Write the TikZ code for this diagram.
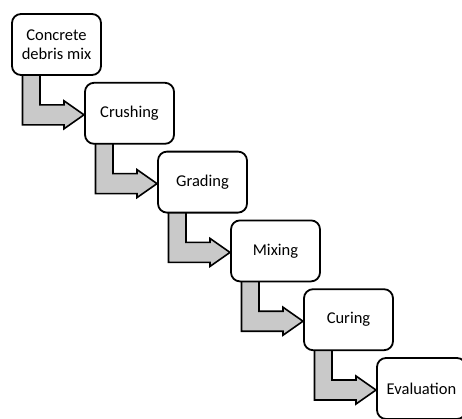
\documentclass[tikz,border=0pt]{standalone}
\usepackage{fontspec}
\setmainfont{Carlito}
\usetikzlibrary{calc,backgrounds}
\tikzset{
  stepbox/.style={draw=black, line width=1.8pt, rounded corners=9pt, fill=white,
    minimum width=89pt, minimum height=61pt, inner sep=0pt, outer sep=0pt,
    align=center, font=\fontsize{16.5}{19}\selectfont, text=black},
  barrow/.style={draw=black, line width=1.6pt, fill=black!21, line join=miter},
}
\newcommand\stepArrow[2]{%
  \coordinate (s1) at ($(#1.south west)+(10.5,-3)$);
  \coordinate (s2) at ($(#1.south west)+(28,-3)$);
  \coordinate (r)  at ($(#2.north west)+(0,22)$);
  \coordinate (rb) at ($(#2.north west)+(0,42)$);
  \coordinate (hx) at ($(#2.north west)+(-21,0)$);
  \coordinate (ht) at ($(#2.north west)+(-21,18)$);
  \coordinate (hb) at ($(#2.north west)+(-21,46)$);
  \coordinate (tip) at ($(#2.north west)+(-1,32)$);
  \draw[barrow] (s1) -- (s2) -- (s2 |- r) -- (hx |- r) -- (ht) -- (tip) -- (hb)
     -- (hx |- rb) -- (s1 |- rb) -- cycle;
}
\begin{document}
\begin{tikzpicture}[x=1pt,y=-1pt]
\useasboundingbox (0,0) rectangle (462,418);
\node[stepbox] (b1) at (56.5,44.5) {Concrete\\debris mix};
\node[stepbox] (b2) at (129.5,113.3) {Crushing};
\node[stepbox] (b3) at (202.5,182.1) {Grading};
\node[stepbox] (b4) at (275.5,250.9) {Mixing};
\node[stepbox] (b5) at (348.5,319.7) {Curing};
\node[stepbox] (b6) at (421.5,388.5) {Evaluation};
\begin{pgfonlayer}{background}
\stepArrow{b1}{b2}
\stepArrow{b2}{b3}
\stepArrow{b3}{b4}
\stepArrow{b4}{b5}
\stepArrow{b5}{b6}
\end{pgfonlayer}
\end{tikzpicture}
\end{document}
